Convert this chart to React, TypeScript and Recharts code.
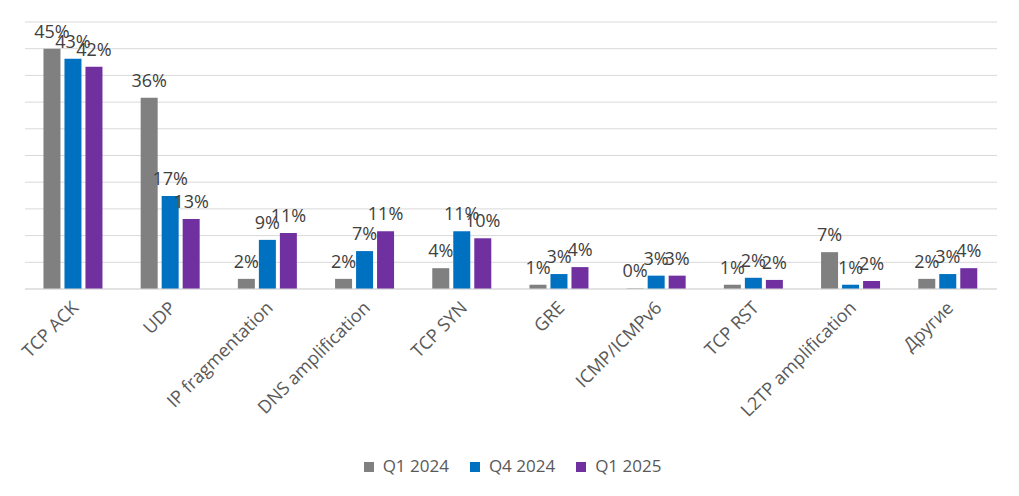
import React from 'react';
import { BarChart, Bar, XAxis, YAxis, CartesianGrid, Legend, LabelList } from 'recharts';

const categories = [
  'TCP ACK',
  'UDP',
  'IP fragmentation',
  'DNS amplification',
  'TCP SYN',
  'GRE',
  'ICMP/ICMPv6',
  'TCP RST',
  'L2TP amplification',
  'Другие',
];

// shares of attacks, % (labels show rounded values)
const q1_2024 = [45, 35.8, 1.9, 1.9, 3.9, 0.8, 0.1, 0.8, 6.9, 1.9];
const q4_2024 = [43.1, 17.4, 9.2, 7.1, 10.8, 2.8, 2.5, 2.1, 0.8, 2.8];
const q1_2025 = [41.6, 13.1, 10.5, 10.8, 9.5, 4.1, 2.5, 1.7, 1.5, 3.9];

const seriesNames = ['Q1 2024', 'Q4 2024', 'Q1 2025'];
const yTicks = [0, 5, 10, 15, 20, 25, 30, 35, 40, 45, 50];

const data = categories.map((name, i) => ({
  name,
  q1_2024: q1_2024[i],
  q4_2024: q4_2024[i],
  q1_2025: q1_2025[i],
}));

const FONT = '"Open Sans", "Noto Sans", sans-serif';

const pct = (v: any) => `${Math.round(Number(v))}%`;

function AngledTick(props: any) {
  const { x, y, payload } = props;
  return (
    <g transform={`translate(${x + 6},${y + 12})`}>
      <text
        textAnchor="end"
        transform="rotate(-45)"
        fill="#595959"
        fontSize={18}
        fontFamily={FONT}
      >
        {payload.value}
      </text>
    </g>
  );
}

export default function App() {
  const labelStyle = { fill: '#404040', fontSize: 18, fontFamily: FONT };
  return (
    <div style={{ width: 1019, height: 496, margin: -8, background: '#fff' }}>
      <BarChart
        width={1019}
        height={496}
        data={data}
        margin={{ top: 22, right: 22, left: 25, bottom: 19 }}
        barCategoryGap="19%"
        barGap={4}
      >
        <CartesianGrid vertical={false} stroke="#d9d9d9" />
        <XAxis
          dataKey="name"
          interval={0}
          height={165}
          tickLine={false}
          axisLine={{ stroke: '#d9d9d9' }}
          tick={<AngledTick />}
        />
        <YAxis hide domain={[0, 50]} ticks={yTicks} />
        <Legend
          verticalAlign="bottom"
          iconType="square"
          iconSize={10}
          itemSorter={(item: any) => seriesNames.indexOf(item.value)}
          wrapperStyle={{ fontFamily: FONT, fontSize: 17, left: 37 }}
          formatter={(v: any) => (
            <span style={{ color: '#595959', marginLeft: 5, paddingRight: 11 }}>{v}</span>
          )}
        />
        <Bar dataKey="q1_2024" name="Q1 2024" fill="#808080" isAnimationActive={false}>
          <LabelList dataKey="q1_2024" position="top" offset={11} formatter={pct} style={labelStyle} />
        </Bar>
        <Bar dataKey="q4_2024" name="Q4 2024" fill="#0070c0" isAnimationActive={false}>
          <LabelList dataKey="q4_2024" position="top" offset={11} formatter={pct} style={labelStyle} />
        </Bar>
        <Bar dataKey="q1_2025" name="Q1 2025" fill="#7030a0" isAnimationActive={false}>
          <LabelList dataKey="q1_2025" position="top" offset={11} formatter={pct} style={labelStyle} />
        </Bar>
      </BarChart>
    </div>
  );
}
